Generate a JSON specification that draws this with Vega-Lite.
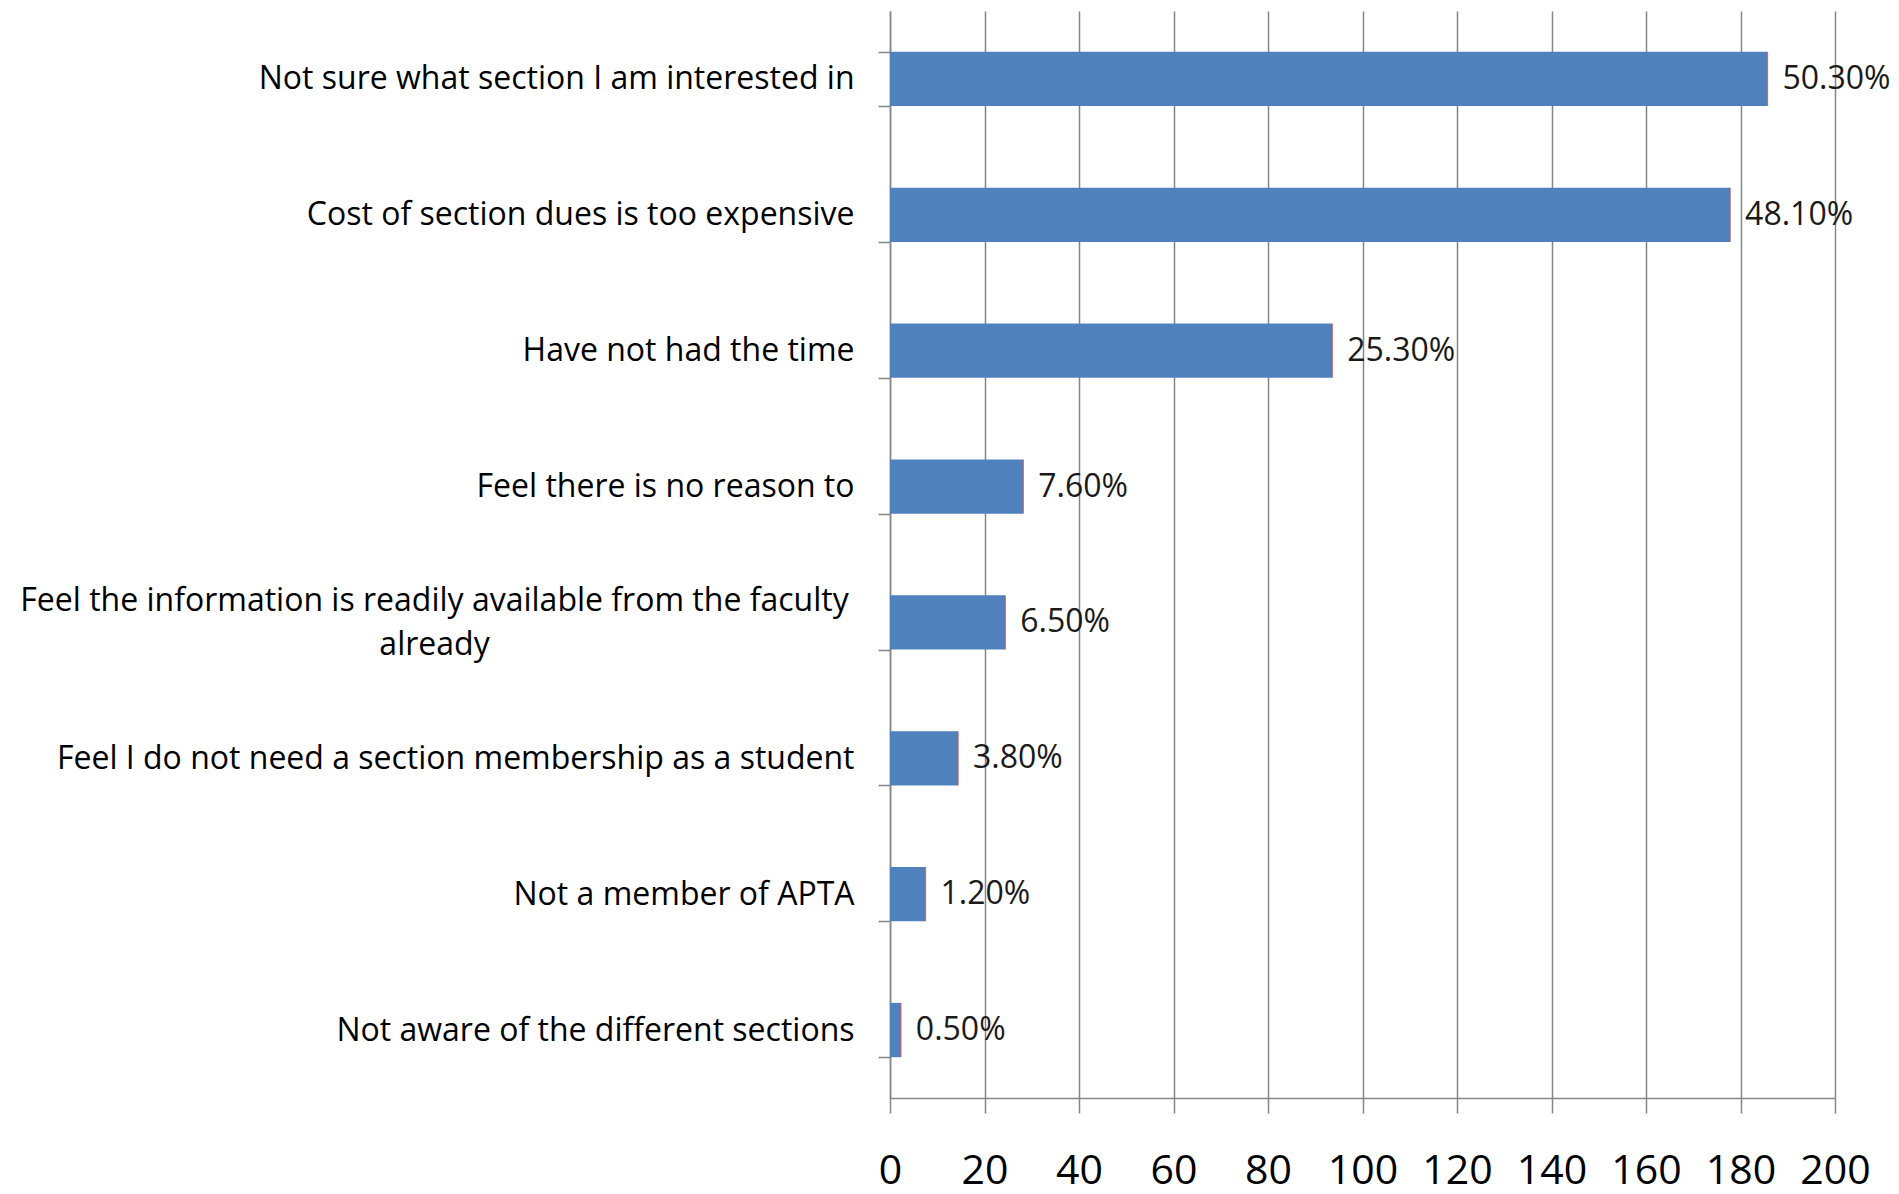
{
  "$schema": "https://vega.github.io/schema/vega-lite/v6.json",
  "width": 945,
  "height": 1087,
  "autosize": {"type": "none"},
  "padding": {"left": 890, "top": 11, "right": 64, "bottom": 96},
  "background": "white",
  "config": {"view": {"stroke": null}},
  "data": {
    "values": [
      {"reason": "Not sure what section I am interested in", "count": 185.7, "pct": "50.30%"},
      {"reason": "Cost of section dues is too expensive", "count": 177.8, "pct": "48.10%"},
      {"reason": "Have not had the time", "count": 93.6, "pct": "25.30%"},
      {"reason": "Feel there is no reason to", "count": 28.2, "pct": "7.60%"},
      {"reason": "Feel the information is readily available from the faculty already", "count": 24.4, "pct": "6.50%"},
      {"reason": "Feel I do not need a section membership as a student", "count": 14.4, "pct": "3.80%"},
      {"reason": "Not a member of APTA", "count": 7.5, "pct": "1.20%"},
      {"reason": "Not aware of the different sections", "count": 2.3, "pct": "0.50%"}
    ]
  },
  "encoding": {
    "y": {
      "field": "reason",
      "type": "nominal",
      "sort": null,
      "scale": {"paddingInner": 0.6, "paddingOuter": 0.3},
      "axis": {
        "title": null,
        "orient": "left",
        "tickBand": "extent",
        "domainColor": "#868686",
        "domainWidth": 1.5,
        "tickColor": "#868686",
        "tickWidth": 1.5,
        "tickSize": 12,
        "labelFont": "Open Sans",
        "labelFontSize": 32,
        "labelColor": "#000000",
        "labelLimit": 1000,
        "labelLineHeight": 44,
        "labelOffset": {"condition": {"test": "isString(datum.value) && indexof(datum.value, 'faculty') >= 0", "value": -22}, "value": 0},
        "labelPadding": {"condition": {"test": "isString(datum.value) && indexof(datum.value, 'faculty') >= 0", "value": 444}, "value": 24},
        "labelAlign": {"condition": {"test": "isString(datum.value) && indexof(datum.value, 'faculty') >= 0", "value": "center"}, "value": "right"},
        "labelExpr": "(isString(datum.value) && indexof(datum.value, 'faculty') >= 0) ? ['Feel the information is readily available from the faculty', 'already'] : datum.label"
      }
    },
    "x": {
      "field": "count",
      "type": "quantitative",
      "scale": {"domain": [0, 200], "nice": false},
      "axis": {
        "title": null,
        "orient": "bottom",
        "values": [0, 20, 40, 60, 80, 100, 120, 140, 160, 180, 200],
        "grid": true,
        "gridColor": "#868686",
        "gridWidth": 1.5,
        "domainColor": "#868686",
        "domainWidth": 1.5,
        "tickColor": "#868686",
        "tickWidth": 1.5,
        "tickSize": 15,
        "labelFont": "Open Sans",
        "labelFontSize": 41,
        "labelColor": "#000000",
        "labelPadding": 38,
        "labelFlush": false,
        "labelOverlap": false
      }
    }
  },
  "layer": [
    {
      "mark": {"type": "bar", "color": "#4f81bd"}
    },
    {
      "mark": {"type": "tick", "color": "#c0504d", "thickness": 1.5, "size": 54, "orient": "vertical"}
    },
    {
      "mark": {"type": "text", "align": "left", "baseline": "middle", "dx": 15, "font": "Open Sans", "fontSize": 32, "color": "#1a1a1a"},
      "encoding": {
        "text": {"field": "pct"}
      }
    }
  ]
}
